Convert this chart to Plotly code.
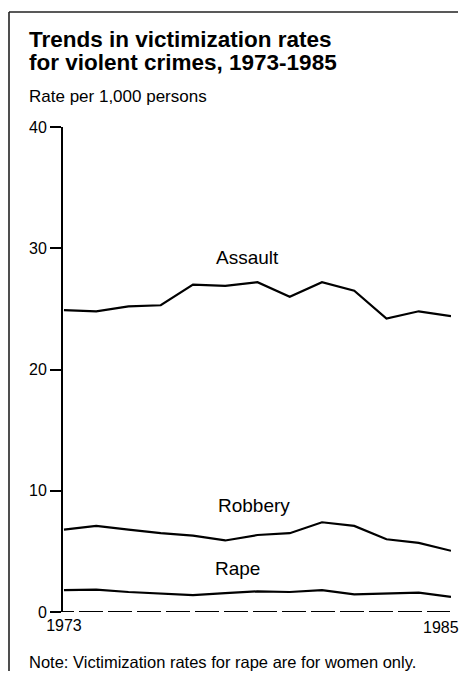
import plotly.graph_objects as go

years = list(range(1973, 1986))
assault = [24.9, 24.8, 25.2, 25.3, 27.0, 26.9, 27.2, 26.0, 27.2, 26.5, 24.2, 24.8, 24.4]
robbery = [6.8, 7.1, 6.8, 6.5, 6.3, 5.9, 6.35, 6.5, 7.4, 7.1, 6.0, 5.7, 5.05]
rape = [1.8, 1.85, 1.65, 1.5, 1.4, 1.55, 1.7, 1.65, 1.8, 1.45, 1.5, 1.6, 1.25]
series_names = ["Assault", "Robbery", "Rape"]
y_ticks = [0, 10, 20, 30, 40]
x_ticks = [1973, 1985]

# the page body has an 8px margin; work in screen pixels and shift
OFF = 8
SW, SH = 468, 687
W, H = SW - 2 * OFF, SH - 2 * OFF - 8
# plot area in screen pixels
PX0, PX1, PY0, PY1 = 63, 451, 127, 612
L, R, T, B = PX0 - OFF, W - (PX1 - OFF), PY0 - OFF, H - (PY1 - OFF)
PW, PH = PX1 - PX0, PY1 - PY0

def px_x(px):
    return (px - PX0) / PW

def px_y(py):
    return (PY1 - py) / PH

FONT = "Liberation Sans, Arial, sans-serif"

fig = go.Figure()
for name, vals in zip(series_names, [assault, robbery, rape]):
    fig.add_trace(go.Scatter(x=years, y=vals, mode="lines", name=name,
                             line=dict(color="black", width=2.2), showlegend=False,
                             hoverinfo="x+y", cliponaxis=False))

# series labels (screen pixel positions)
label_pos = {"Assault": (247, 257), "Robbery": (254, 505), "Rape": (237, 568)}
annotations = []
for name in series_names:
    x, y = label_pos[name]
    annotations.append(dict(text=name, x=px_x(x), y=px_y(y), xref="paper", yref="paper",
                            xanchor="center", yanchor="middle", showarrow=False,
                            font=dict(size=19, color="black", family=FONT)))

# last year label, placed on the x scale but nudged left to stay inside the page
annotations.append(dict(text=str(x_ticks[-1]), x=x_ticks[-1], xref="x", y=px_y(627), yref="paper",
                        xanchor="center", yanchor="middle", xshift=-10, showarrow=False,
                        font=dict(size=16, color="black", family=FONT)))

annotations += [
    dict(text="<b>Trends in victimization rates</b>", x=px_x(27), y=px_y(40), xref="paper", yref="paper",
         xanchor="left", yanchor="middle", showarrow=False, font=dict(size=22.5, color="black", family=FONT)),
    dict(text="<b>for violent crimes, 1973-1985</b>", x=px_x(27), y=px_y(62), xref="paper", yref="paper",
         xanchor="left", yanchor="middle", showarrow=False, font=dict(size=22.5, color="black", family=FONT)),
    dict(text="Rate per 1,000 persons", x=px_x(27), y=px_y(96), xref="paper", yref="paper",
         xanchor="left", yanchor="middle", showarrow=False, font=dict(size=17, color="black", family=FONT)),
    dict(text="Note: Victimization rates for rape are for women only.", x=px_x(27), y=px_y(662),
         xref="paper", yref="paper", xanchor="left", yanchor="middle", showarrow=False,
         font=dict(size=16.5, color="black", family=FONT)),
]

shapes = [
    # frame: top and left border
    dict(type="line", xref="paper", yref="paper", x0=px_x(9), x1=px_x(458), y0=px_y(12), y1=px_y(12),
         line=dict(color="#222", width=1.6)),
    dict(type="line", xref="paper", yref="paper", x0=px_x(9), x1=px_x(9), y0=px_y(12), y1=px_y(676),
         line=dict(color="#222", width=1.6)),
    # dashed baseline at zero
    dict(type="line", xref="paper", yref="y", x0=px_x(50), x1=px_x(450), y0=0, y1=0,
         line=dict(color="black", width=2, dash="24px,5px")),
]

fig.update_layout(
    width=W, height=H,
    margin=dict(l=L, r=R, t=T, b=B, pad=0, autoexpand=False),
    paper_bgcolor="white", plot_bgcolor="white",
    font=dict(family=FONT, color="black"),
    annotations=annotations, shapes=shapes,
    xaxis=dict(range=[1972.97, 1985], tickvals=x_ticks[:1],
               ticktext=[str(v) for v in x_ticks[:1]],
               showgrid=False, zeroline=False, showline=False, ticks="", automargin=False,
               tickfont=dict(size=16, color="black", family=FONT), ticklabelstandoff=2,
               ticklabeloverflow="allow"),
    yaxis=dict(range=[0, 40], tickvals=y_ticks, showgrid=False, zeroline=False, automargin=False,
               showline=True, linecolor="black", linewidth=2, ticks="outside", ticklen=11,
               tickwidth=2, tickcolor="black", tickfont=dict(size=16, color="black", family=FONT)),
)

fig.write_html("out.html", config={"displayModeBar": False})
